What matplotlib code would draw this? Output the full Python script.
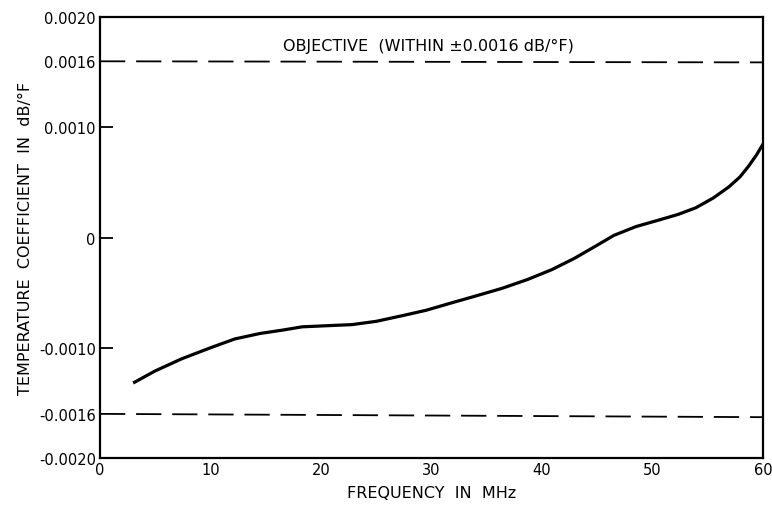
import numpy as np
import matplotlib
matplotlib.use("Agg")
import matplotlib.pyplot as plt

plt.rcParams['font.family'] = ['DejaVu Sans']

# curve (MHz, dB/°F)
freq = [3.0, 5.0, 7.4, 10.0, 12.2, 14.5, 16.5, 18.3, 20.5, 22.8, 25.0, 27.3,
        29.5, 31.9, 34.0, 36.4, 38.7, 40.9, 42.9, 44.8, 46.5, 48.5, 50.6,
        52.3, 53.9, 55.5, 56.9, 57.9, 58.7, 59.4, 60.0]
coef = [-0.00132, -0.00121, -0.00110, -0.00100, -0.00092, -0.00087, -0.00084,
        -0.00081, -0.00080, -0.00079, -0.00076, -0.00071, -0.00066, -0.00059,
        -0.00053, -0.00046, -0.00038, -0.00029, -0.00019, -0.00008, 0.00002,
        0.00010, 0.00016, 0.00021, 0.00027, 0.00036, 0.00046, 0.00055,
        0.00065, 0.00075, 0.00085]

# objective limits (hand-drawn, slightly off level)
lim_x = [0, 60]
lim_hi = [0.00160, 0.00159]
lim_lo = [-0.00160, -0.00163]

xticks = [0, 10, 20, 30, 40, 50, 60]
yticks = [-0.0020, -0.0016, -0.0010, 0, 0.0010, 0.0016, 0.0020]
ylabels = ['-0.0020', '-0.0016', '-0.0010', '0', '0.0010', '0.0016', '0.0020']

fig = plt.figure(figsize=(7.72, 5.06), dpi=100)
ax = fig.add_axes([0.1295, 0.093, 0.859, 0.871])

ax.plot(freq, coef, color='black', lw=2.3, solid_capstyle='butt',
        solid_joinstyle='round')
ax.plot(lim_x, lim_hi, color='black', lw=1.3, dashes=(14, 6))
ax.plot(lim_x, lim_lo, color='black', lw=1.3, dashes=(14, 6))

ax.text(29.7, 0.00174, 'OBJECTIVE  (WITHIN \u00b10.0016 dB/\u00b0F)',
        ha='center', va='center', fontsize=11.5)

ax.set_xlim(0, 60)
ax.set_ylim(-0.0020, 0.0020)
ax.set_xticks(xticks)
ax.set_yticks(yticks)
ax.set_yticklabels(ylabels)
ax.tick_params(direction='in', length=9, width=1.3, labelsize=10.5, pad=3)

# only some ticks are drawn in the original
for t in ax.xaxis.get_major_ticks():
    if t.get_loc() in (0, 60):
        t.tick1line.set_visible(False)
for t in ax.yaxis.get_major_ticks():
    if abs(t.get_loc()) > 0.0011:
        t.tick1line.set_visible(False)

for s in ax.spines.values():
    s.set_linewidth(1.6)

ax.set_xlabel('FREQUENCY  IN  MHz', fontsize=11.5, labelpad=6)
ax.set_ylabel('TEMPERATURE  COEFFICIENT  IN  dB/\u00b0F', fontsize=11.5,
              labelpad=4)

fig.savefig('out.png', dpi=100)
